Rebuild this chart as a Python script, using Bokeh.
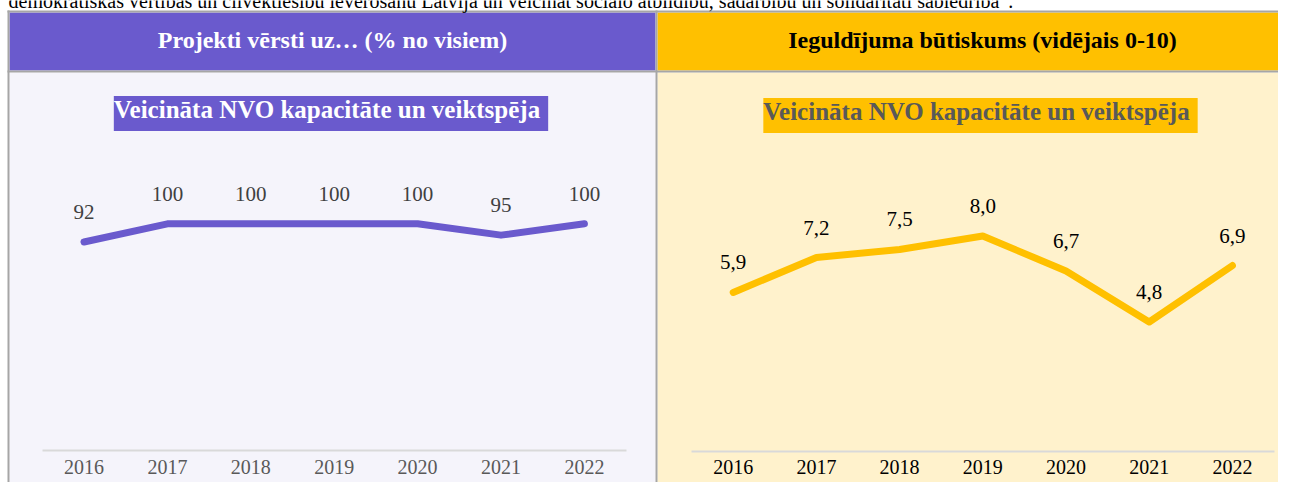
from bokeh.plotting import figure
from bokeh.models import Range1d, LinearAxis, FixedTicker
from bokeh.core.properties import value
from bokeh.embed import file_html
from bokeh.resources import INLINE

# ---------------- data ----------------
years = [2016, 2017, 2018, 2019, 2020, 2021, 2022]
share_values = [92, 100, 100, 100, 100, 95, 100]          # % no visiem
importance_values = [5.9, 7.2, 7.5, 8.0, 6.7, 4.8, 6.9]   # vidējais 0-10
share_labels = [f"{v:d}" for v in share_values]
importance_labels = [f"{v:.1f}".replace(".", ",") for v in importance_values]

intro_text = ("demokrātiskās vērtības un cilvēktiesību ievērošanu Latvijā un veicināt "
              "sociālo atbildību, sadarbību un solidaritāti sabiedrībā”.")
left_header = "Projekti vērsti uz… (% no visiem)"
right_header = "Ieguldījuma būtiskums (vidējais 0-10)"
subtitle = "Veicināta NVO kapacitāte un veiktspēja"

# ---------------- layout ----------------
W, H = 1278, 482
FONT = "Liberation Serif"
PURPLE = "#6A5ACD"
GOLD = "#FFC000"
LAV_BG = "#F5F4FB"
GOLD_BG = "#FFF2CC"
BORDER = "#A6A6A6"

# pixel position of first year, px per year, px of value 0, px per unit
L_X0, L_STEP, L_ZERO, L_PPU = 83.5, 83.4, 450.3, 2.27
R_X0, R_STEP, R_ZERO, R_PPU = 732.7, 83.2, 450.5, 26.875

lx_start = years[0] - L_X0 / L_STEP
rx_start = years[0] - R_X0 / R_STEP

p = figure(width=W, height=H,
           x_range=Range1d(lx_start, lx_start + W / L_STEP),
           y_range=Range1d(-(H - L_ZERO) / L_PPU, L_ZERO / L_PPU),
           output_backend="svg", toolbar_location=None,
           x_axis_location=None, y_axis_location=None,
           min_border=0, outline_line_color=None,
           background_fill_color="white", border_fill_color="white")
p.extra_x_ranges = {"rx": Range1d(rx_start, rx_start + W / R_STEP),
                    "px": Range1d(0, W)}
p.extra_y_ranges = {"ry": Range1d(-(H - R_ZERO) / R_PPU, R_ZERO / R_PPU),
                    "px": Range1d(H, 0)}
p.xgrid.grid_line_color = None
p.ygrid.grid_line_color = None
p.xgrid.visible = False
p.ygrid.visible = False

PX = dict(x_range_name="px", y_range_name="px")

def box(l, r, t, b, color):
    p.quad(left=[l], right=[r], top=[t], bottom=[b], fill_color=color, line_color=None, **PX)

# backgrounds and table borders
box(9, 655, 72, H, LAV_BG)
box(657, W, 72, H, GOLD_BG)
box(9, 655, 12, 70, PURPLE)
box(657, W, 12, 70, GOLD)
box(7, W, 10, 12, BORDER)
box(7, W, 70, 72, BORDER)
box(7, 9, 10, H, BORDER)
box(655, 657, 10, H, BORDER)

# intro text (cut off at the top, as in the source)
p.text(x=[8], y=[0], text=[intro_text], text_font=value(FONT), text_font_size="20px",
       text_color="black", text_align="left", text_baseline="middle", **PX)

# headers
p.text(x=[332], y=[39], text=[left_header], text_font=value(FONT), text_font_size="24px",
       text_font_style="bold", text_color="white", text_align="center",
       text_baseline="middle", **PX)
p.text(x=[982], y=[39], text=[right_header], text_font=value(FONT), text_font_size="24px",
       text_font_style="bold", text_color="black", text_align="center",
       text_baseline="middle", **PX)

# subtitles with highlight
p.text(x=[330.5], y=[113], text=[subtitle], text_font=value(FONT), text_font_size="25px",
       text_font_style="bold", text_color="white", text_align="center",
       text_baseline="middle", background_fill_color=PURPLE, padding=[0, 8, 0, 8], **PX)
p.text(x=[980], y=[115], text=[subtitle], text_font=value(FONT), text_font_size="25px",
       text_font_style="bold", text_color="#595959", text_align="center",
       text_baseline="middle", background_fill_color=GOLD, padding=[0, 8, 0, 8], **PX)

# data lines
p.line(years, share_values, line_color=PURPLE, line_width=7,
       line_cap="round", line_join="round")
p.line(years, importance_values, line_color=GOLD, line_width=7,
       line_cap="round", line_join="round", x_range_name="rx", y_range_name="ry")

# data labels
p.text(years, share_values, text=share_labels, text_font=value(FONT), text_font_size="21px",
       text_color="#404040", text_align="center", text_baseline="middle", y_offset=-30)
p.text(years, importance_values, text=importance_labels, text_font=value(FONT),
       text_font_size="21px", text_color="black", text_align="center",
       text_baseline="middle", y_offset=-30, x_range_name="rx", y_range_name="ry")

# x axes
def make_axis(color, **kw):
    ax = LinearAxis(ticker=FixedTicker(ticks=years), fixed_location=0,
                    bounds=(years[0] - 0.5, years[-1] + 0.5), **kw)
    ax.axis_line_color = "#D9D9D9"
    ax.axis_line_width = 2
    ax.major_tick_line_color = None
    ax.minor_tick_line_color = None
    ax.major_tick_out = 0
    ax.major_tick_in = 0
    ax.major_label_standoff = 9
    ax.major_label_text_font = FONT
    ax.major_label_text_font_size = "20px"
    ax.major_label_text_color = color
    return ax

p.add_layout(make_axis("#595959"), "below")
p.add_layout(make_axis("black", x_range_name="rx", y_range_name="ry"), "below")

open("out.html", "w").write(file_html(p, INLINE))
